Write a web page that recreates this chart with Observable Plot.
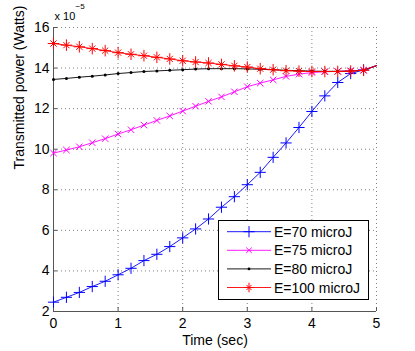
<!DOCTYPE html>
<html>
<head>
<meta charset="utf-8">
<script src="https://cdn.jsdelivr.net/npm/d3@7"></script>
<script src="https://cdn.jsdelivr.net/npm/@observablehq/plot@0.6"></script>
<style>
  html, body { margin: 0; padding: 0; background: white; }
  svg { display: block; }
</style>
</head>
<body>
<div id="chart"></div>
<script>
const time = [0, 0.2, 0.4, 0.6, 0.8, 1.0, 1.2, 1.4, 1.6, 1.8, 2.0, 2.2, 2.4, 2.6, 2.8, 3.0, 3.2, 3.4, 3.6, 3.8, 4.0, 4.2, 4.4, 4.6, 4.8, 5.0];
const e70  = [2.46, 2.70, 2.94, 3.23, 3.49, 3.81, 4.13, 4.51, 4.82, 5.20, 5.63, 6.07, 6.56, 7.14, 7.66, 8.25, 8.86, 9.60, 10.31, 11.07, 11.86, 12.63, 13.29, 13.73, 13.91, 14.12];
const e75  = [9.81, 9.96, 10.12, 10.32, 10.52, 10.75, 10.96, 11.19, 11.42, 11.64, 11.88, 12.12, 12.36, 12.58, 12.83, 13.08, 13.26, 13.42, 13.59, 13.70, 13.78, 13.82, 13.84, 13.87, 13.90, 14.12];
const e80  = [13.44, 13.49, 13.55, 13.60, 13.66, 13.73, 13.78, 13.83, 13.86, 13.89, 13.92, 13.95, 13.97, 13.97, 13.97, 13.96, 13.94, 13.92, 13.89, 13.87, 13.85, 13.84, 13.84, 13.85, 13.89, 14.12];
const e100 = [15.21, 15.13, 15.05, 14.96, 14.86, 14.76, 14.68, 14.61, 14.53, 14.45, 14.36, 14.30, 14.25, 14.18, 14.11, 14.05, 13.97, 13.92, 13.87, 13.85, 13.83, 13.83, 13.83, 13.85, 13.89, 14.12];
const seriesNames = ["E=70 microJ", "E=75 microJ", "E=80 microJ", "E=100 microJ"];
const seriesColors = ["#0000ff", "#ff00ff", "#000000", "#ff0000"];
const xTicks = [0, 1, 2, 3, 4, 5];
const yTicks = [2, 4, 6, 8, 10, 12, 14, 16];
const xLabel = "Time (sec)";
const yLabel = "Transmitted power (Watts)";
const expBase = "x 10";
const expPow = "\u22125";

const allSeries = [e70, e75, e80, e100];
const rows = allSeries.map(vals => time.map((t, i) => ({t, v: vals[i]})));
// markers drawn on all samples except the final one at t = 5
const markerRows = rows.map(r => r.slice(0, r.length - 1));

const font = "'Liberation Sans', Arial, Helvetica, sans-serif";
const lineW = 0.9;

const chart = Plot.plot({
  width: 415,
  height: 351,
  marginLeft: 53,
  marginRight: 39,
  marginTop: 27,
  marginBottom: 40,
  style: {fontFamily: font, fontSize: "14px", background: "white", color: "black", overflow: "visible"},
  x: {domain: [0, 5], label: null},
  y: {domain: [2, 16], label: null},
  marks: [
    Plot.gridX(xTicks, {stroke: "#808080", strokeOpacity: 1, strokeWidth: 1, strokeDasharray: "1,3"}),
    Plot.gridY(yTicks, {stroke: "#808080", strokeOpacity: 1, strokeWidth: 1, strokeDasharray: "1,3"}),
    Plot.ruleX([0], {stroke: "#555"}),
    Plot.ruleY([2], {stroke: "#555"}),
    Plot.tickX(xTicks, {x: d => d, insetTop: 280, stroke: "#555"}),
    Plot.tickY(yTicks, {y: d => d, insetRight: 319, stroke: "#555"}),
    Plot.axisX(xTicks, {tickSize: 0, tickPadding: 7, fontSize: 14, label: null}),
    Plot.axisY(yTicks, {tickSize: 0, tickPadding: 4, fontSize: 14, label: null}),
    Plot.text([xLabel], {frameAnchor: "bottom", dy: 24, fontSize: 14, lineAnchor: "top"}),
    Plot.text([yLabel], {frameAnchor: "left", rotate: -90, dx: -34, fontSize: 14}),
    Plot.text([expBase], {frameAnchor: "top-left", textAnchor: "start", lineAnchor: "bottom", dx: 1, dy: -8, fontSize: 11}),
    Plot.text([expPow], {frameAnchor: "top-left", textAnchor: "start", lineAnchor: "bottom", dx: 22, dy: -19, fontSize: 8}),
    // E=70
    Plot.line(rows[0], {x: "t", y: "v", stroke: seriesColors[0], strokeWidth: lineW}),
    Plot.dot(markerRows[0], {x: "t", y: "v", symbol: "plus", r: 3.7, stroke: seriesColors[0], strokeWidth: 1}),
    // E=75
    Plot.line(rows[1], {x: "t", y: "v", stroke: seriesColors[1], strokeWidth: lineW}),
    Plot.dot(markerRows[1], {x: "t", y: "v", symbol: "times", r: 3, stroke: seriesColors[1], strokeWidth: 1}),
    // E=80
    Plot.line(rows[2], {x: "t", y: "v", stroke: seriesColors[2], strokeWidth: lineW}),
    Plot.dot(markerRows[2], {x: "t", y: "v", r: 1.5, fill: seriesColors[2], stroke: "none"}),
    // E=100
    Plot.line(rows[3], {x: "t", y: "v", stroke: seriesColors[3], strokeWidth: lineW}),
    Plot.dot(markerRows[3], {x: "t", y: "v", symbol: "plus", r: 3.8, stroke: seriesColors[3], strokeWidth: 1}),
    Plot.dot(markerRows[3], {x: "t", y: "v", symbol: "times", r: 2.9, stroke: seriesColors[3], strokeWidth: 1})
  ]
});

// Legend inside the plot area (lower right)
const svg = d3.select(chart);
const lg = svg.append("g").attr("font-family", font).attr("font-size", 14).attr("text-anchor", "start");
const lx = 218.5, ly = 220.5, lw = 150, lh = 79;
lg.append("rect").attr("x", lx).attr("y", ly).attr("width", lw).attr("height", lh)
  .attr("fill", "white").attr("stroke", "black").attr("stroke-width", 1);
const symDefs = [
  [{type: d3.symbolPlus, r: 3.7, stroke: true}],
  [{type: d3.symbolTimes, r: 2.6, stroke: true}],
  [{type: d3.symbolCircle, r: 1.4, stroke: false}],
  [{type: d3.symbolPlus, r: 3.2, stroke: true}, {type: d3.symbolTimes, r: 2.4, stroke: true}]
];
seriesNames.forEach((name, i) => {
  const y = 231.7 + i * 18.6;
  const c = seriesColors[i];
  lg.append("line").attr("x1", 227).attr("x2", 271).attr("y1", y).attr("y2", y)
    .attr("stroke", c).attr("stroke-width", lineW);
  symDefs[i].forEach(s => {
    const p = lg.append("path")
      .attr("d", d3.symbol(s.type, Math.PI * s.r * s.r)())
      .attr("transform", `translate(249,${y})`);
    if (s.stroke) p.attr("fill", "none").attr("stroke", c).attr("stroke-width", 1);
    else p.attr("fill", c);
  });
  lg.append("text").attr("x", 274).attr("y", y).attr("dy", "0.36em")
    .attr("text-anchor", "start").attr("fill", "black").text(name);
});

document.getElementById("chart").appendChild(chart);
</script>
</body>
</html>
